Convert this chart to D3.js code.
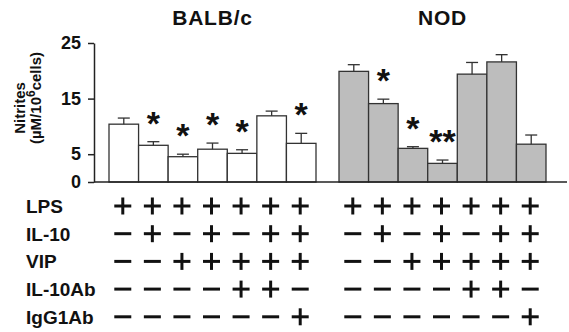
<!DOCTYPE html>
<html>
<head>
<meta charset="utf-8">
<script src="https://d3js.org/d3.v7.min.js"></script>
<style>
  body { margin: 0; background: #fff; }
  text { font-family: Arial, "Liberation Sans", Helvetica, sans-serif; font-weight: bold; fill: #111; }
</style>
</head>
<body>
<script>
// data
var groups = ["BALB/c", "NOD"];
var balbMeans = [10.4, 6.6, 4.55, 5.9, 5.15, 11.9, 6.95];
var balbErr   = [1.1, 0.65, 0.45, 1.1, 0.65, 0.85, 1.8];
var balbSig   = ["", "*", "*", "*", "*", "", "*"];
var nodMeans  = [19.9, 14.1, 6.05, 3.35, 19.4, 21.6, 6.8];
var nodErr    = [1.2, 0.8, 0.3, 0.6, 2.1, 1.3, 1.65];
var nodSig    = ["", "*", "*", "**", "", "", ""];
var yTicks = [0, 5, 15, 25];

var rowNames = ["LPS", "IL-10", "VIP", "IL-10Ab", "IgG1Ab"];
var rowSigns = [
  "+++++++",
  "-+-+-++",
  "--+++++",
  "----++-",
  "------+"
];

var svg = d3.select("body").append("svg")
    .attr("width", 569)
    .attr("height", 332);

var y = d3.scaleLinear().domain([0, 25]).range([182, 43]);

var x0 = d3.scaleBand().domain(groups).range([109, 546]).paddingInner(0.1);
var x1 = d3.scaleBand().domain(d3.range(7)).range([0, x0.bandwidth()]);

// y axis
var yAxis = svg.append("g")
    .attr("transform", "translate(94,0)")
    .call(d3.axisLeft(y).tickValues(yTicks).tickSize(6).tickSizeOuter(0).tickPadding(7));
yAxis.select(".domain").attr("stroke", "#222").attr("stroke-width", 1.5);
yAxis.selectAll(".tick line").attr("stroke", "#222").attr("stroke-width", 1.5);
yAxis.selectAll(".tick text")
    .style("font-size", "18px")
    .style("font-weight", "bold")
    .attr("fill", "#111");

// axis title
svg.append("text")
    .attr("transform", "translate(25,108) rotate(-90)")
    .attr("text-anchor", "middle")
    .style("font-size", "15px")
    .text("Nitrites");
var lab2 = svg.append("text")
    .attr("transform", "translate(41,98) rotate(-90)")
    .attr("text-anchor", "middle")
    .style("font-size", "15px");
lab2.append("tspan").text("(\u00b5M/10");
lab2.append("tspan").attr("dy", -6).style("font-size", "12px").text("6");
lab2.append("tspan").attr("dy", 6).text("cells)");

var groupData = [
  {name: "BALB/c", means: balbMeans, err: balbErr, sig: balbSig, fill: "#ffffff"},
  {name: "NOD", means: nodMeans, err: nodErr, sig: nodSig, fill: "#bdbdbd"}
];

groupData.forEach(function(g) {
  var gx = x0(g.name);
  var grp = svg.append("g").attr("transform", "translate(" + gx + ",0)");

  grp.selectAll("rect")
    .data(g.means)
    .enter()
    .append("rect")
    .attr("x", function(d, i) { return x1(i); })
    .attr("y", function(d) { return y(d); })
    .attr("width", x1.bandwidth())
    .attr("height", function(d) { return y(0) - y(d); })
    .attr("fill", g.fill)
    .attr("stroke", "#333")
    .attr("stroke-width", 1.3);

  var eb = grp.selectAll(".err")
    .data(g.means)
    .enter()
    .append("g")
    .attr("class", "err");
  eb.append("line")
    .attr("x1", function(d, i) { return x1(i) + x1.bandwidth() / 2; })
    .attr("x2", function(d, i) { return x1(i) + x1.bandwidth() / 2; })
    .attr("y1", function(d) { return y(d); })
    .attr("y2", function(d, i) { return y(d + g.err[i]); })
    .attr("stroke", "#333").attr("stroke-width", 1.3);
  eb.append("line")
    .attr("x1", function(d, i) { return x1(i) + x1.bandwidth() / 2 - 6; })
    .attr("x2", function(d, i) { return x1(i) + x1.bandwidth() / 2 + 6; })
    .attr("y1", function(d, i) { return y(d + g.err[i]); })
    .attr("y2", function(d, i) { return y(d + g.err[i]); })
    .attr("stroke", "#333").attr("stroke-width", 1.3);

  grp.selectAll(".sig")
    .data(g.means)
    .enter()
    .append("text")
    .attr("class", "sig")
    .attr("x", function(d, i) { return x1(i) + x1.bandwidth() / 2; })
    .attr("y", function(d, i) { return y(d + g.err[i]) - 7; })
    .attr("text-anchor", "middle")
    .style("font-size", "34px")
    .text(function(d, i) { return g.sig[i]; });

  svg.append("text")
    .attr("x", gx + x0.bandwidth() / 2)
    .attr("y", 25)
    .attr("text-anchor", "middle")
    .style("font-size", "21px")
    .attr("letter-spacing", "0.8px")
    .text(g.name);

  // treatment table
  rowSigns.forEach(function(row, r) {
    var cy = 206 + r * 27.7;
    row.split("").forEach(function(s, i) {
      var cx = x1(i) + x1.bandwidth() / 2 - 1;
      grp.append("line")
        .attr("x1", cx - 8.5).attr("x2", cx + 8.5)
        .attr("y1", cy).attr("y2", cy)
        .attr("stroke", "#111").attr("stroke-width", 3);
      if (s === "+") {
        grp.append("line")
          .attr("x1", cx).attr("x2", cx)
          .attr("y1", cy - 8.5).attr("y2", cy + 8.5)
          .attr("stroke", "#111").attr("stroke-width", 3);
      }
    });
  });
});

// x baseline
svg.append("line")
  .attr("x1", 94).attr("x2", 567)
  .attr("y1", y(0)).attr("y2", y(0))
  .attr("stroke", "#222").attr("stroke-width", 1.5);

svg.selectAll(".rowlab")
  .data(rowNames)
  .enter()
  .append("text")
  .attr("class", "rowlab")
  .attr("x", 26)
  .attr("y", function(d, i) { return 206 + i * 27.7 + 7; })
  .style("font-size", "19px")
  .text(function(d) { return d; });
</script>
</body>
</html>
